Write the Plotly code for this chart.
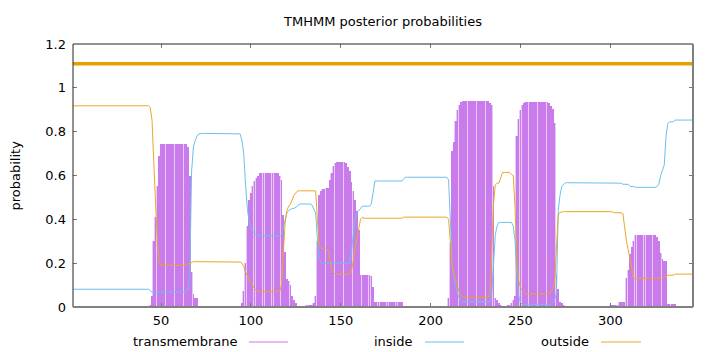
import plotly.graph_objects as go

# ---------------- data (posterior probabilities per residue) ----------------
transmembrane = (
    [0.0] * 43
    + [0.01, 0.05, 0.30, 0.41, 0.55, 0.69, 0.745]
    + [0.745] * 14
    + [0.73, 0.60, 0.16, 0.06, 0.04, 0.04]
    + [0.0] * 24
    + [0.02, 0.075, 0.20, 0.37, 0.49, 0.52, 0.55, 0.575, 0.59, 0.60]
    + [0.61] * 11
    + [0.60, 0.58, 0.42, 0.25, 0.13, 0.12, 0.10, 0.05, 0.03, 0.02]
    + [0.0] * 5
    + [0.005, 0.01, 0.01, 0.01, 0.02, 0.05, 0.30, 0.51, 0.53, 0.54, 0.54,
       0.545, 0.545, 0.58, 0.61, 0.645, 0.655]
    + [0.66] * 5
    + [0.655, 0.64, 0.62, 0.57, 0.53, 0.49, 0.44, 0.35]
    + [0.145] * 6
    + [0.14, 0.09]
    + [0.024] * 16
    + [0.0] * 25
    + [0.04, 0.29, 0.71, 0.755, 0.85, 0.90, 0.92, 0.935]
    + [0.94] * 15
    + [0.93, 0.92, 0.55, 0.04, 0.03, 0.02, 0.01]
    + [0.0] * 3
    + [0.01, 0.01, 0.02, 0.03, 0.05, 0.78, 0.86, 0.90, 0.92, 0.93]
    + [0.935] * 13
    + [0.93, 0.915, 0.905, 0.84, 0.15, 0.08, 0.025, 0.02, 0.01]
    + [0.0] * 25
    + [0.005] * 4
    + [0.01]
    + [0.024] * 4
    + [0.131, 0.17, 0.24, 0.275, 0.30]
    + [0.33] * 12
    + [0.32, 0.30, 0.245, 0.22, 0.21, 0.21]
    + [0.015] * 5
    + [0.0] * 10
)

inside = (
    [0.081] * 43
    + [0.075]
    + [0.067] * 19
    + [0.07, 0.08, 0.15, 0.62, 0.73, 0.76, 0.78, 0.79]
    + [0.792] * 22
    + [0.79, 0.76, 0.70, 0.56, 0.45, 0.39, 0.36, 0.345, 0.335, 0.33]
    + [0.325] * 14
    + [0.36, 0.40, 0.43, 0.44, 0.445, 0.45, 0.45, 0.455, 0.46]
    + [0.47] * 7
    + [0.465, 0.45, 0.43, 0.31, 0.22]
    + [0.20] * 17
    + [0.26, 0.33, 0.40, 0.43, 0.44, 0.45]
    + [0.46] * 5
    + [0.47, 0.52]
    + [0.575] * 16
    + [0.585]
    + [0.592] * 24
    + [0.58, 0.40, 0.20, 0.13, 0.09, 0.06, 0.04, 0.03]
    + [0.024] * 16
    + [0.06, 0.22, 0.33, 0.37]
    + [0.386] * 8
    + [0.37, 0.30, 0.13, 0.05, 0.02]
    + [0.012] * 17
    + [0.02, 0.035, 0.06, 0.44, 0.51, 0.55, 0.56]
    + [0.567] * 28
    + [0.565] * 4
    + [0.56] * 4
    + [0.55] * 3
    + [0.546] * 12
    + [0.55, 0.56, 0.60, 0.63, 0.648, 0.78, 0.838]
    + [0.845] * 3
    + [0.853] * 11
)

outside = (
    [0.918] * 43
    + [0.91, 0.85, 0.65, 0.45, 0.28, 0.21]
    + [0.19] * 15
    + [0.195, 0.20, 0.205]
    + [0.207] * 26
    + [0.205, 0.20, 0.185, 0.16, 0.14, 0.125, 0.11, 0.095, 0.085, 0.075]
    + [0.07] * 13
    + [0.10, 0.25, 0.38, 0.44, 0.46, 0.47, 0.49, 0.51, 0.52]
    + [0.53] * 11
    + [0.40, 0.28]
    + [0.268] * 4
    + [0.26, 0.22, 0.17, 0.155]
    + [0.15] * 9
    + [0.17, 0.21, 0.27, 0.32, 0.37, 0.40, 0.41]
    + [0.405] * 22
    + [0.41] * 25
    + [0.40, 0.30, 0.19, 0.15, 0.12, 0.09, 0.065, 0.05]
    + [0.044] * 15
    + [0.06, 0.28, 0.47, 0.557, 0.565, 0.565, 0.59]
    + [0.614] * 5
    + [0.605, 0.60, 0.45, 0.20, 0.12, 0.09, 0.075, 0.065]
    + [0.059] * 13
    + [0.06, 0.07, 0.085, 0.11, 0.25, 0.42, 0.432]
    + [0.435] * 29
    + [0.43] * 5
    + [0.425, 0.36, 0.30, 0.26, 0.22, 0.17]
    + [0.131] * 17
    + [0.135, 0.14]
    + [0.145] * 4
    + [0.15] * 11
)

residues = list(range(1, len(transmembrane) + 1))
topology_x = [1, 346]
topology_y = [1.11, 1.11]
x_ticks = [50, 100, 150, 200, 250, 300]
y_ticks = [0, 0.2, 0.4, 0.6, 0.8, 1, 1.2]
y_tick_text = ["0", "0.2", "0.4", "0.6", "0.8", "1", "1.2"]
series_names = ["transmembrane", "inside", "outside"]

# ---------------- styles ----------------
TM_DARK = "#c97bec"
TM_LIGHT = "#e6cbf6"
INSIDE_C = "#6cc0ec"
OUTSIDE_C = "#eaa72a"
TOPO_C = "#e69f00"
FONT = "DejaVu Sans"
FS = 13

fig = go.Figure()
fig.add_trace(go.Bar(x=residues, y=transmembrane, width=1.0,
                     marker=dict(color=TM_LIGHT, line=dict(width=0)),
                     showlegend=False, hoverinfo="skip"))
fig.add_trace(go.Bar(x=residues, y=transmembrane, width=0.3,
                     marker=dict(color=TM_DARK, line=dict(width=0)),
                     showlegend=False))
fig.add_trace(go.Scatter(x=residues, y=inside, mode="lines",
                         line=dict(color=INSIDE_C, width=1), showlegend=False))
fig.add_trace(go.Scatter(x=residues, y=outside, mode="lines",
                         line=dict(color=OUTSIDE_C, width=1), showlegend=False))
fig.add_trace(go.Scatter(x=topology_x, y=topology_y, mode="lines",
                         line=dict(color=TOPO_C, width=3.5), showlegend=False))

W, H = 720, 352
L, R, T, B = 73, 27, 44, 45
pw, ph = W - L - R, H - T - B


def px_x(p):
    return (p - L) / pw


def px_y(p):
    return (H - B - p) / ph


axis_common = dict(showgrid=False, zeroline=False, showline=False,
                   ticks="inside", ticklen=4, tickwidth=1, tickcolor="#777",
                   mirror="ticks",
                   tickfont=dict(family=FONT, size=FS, color="#000"))

fig.update_layout(
    width=W, height=H,
    margin=dict(l=L, r=R, t=T, b=B, pad=0),
    paper_bgcolor="white", plot_bgcolor="white",
    barmode="overlay", bargap=0,
    font=dict(family=FONT, size=FS, color="#000"),
    title=dict(text="TMHMM posterior probabilities", x=px_x(383), xref="paper",
               xanchor="center", y=1 - 21 / H, yref="container", yanchor="middle",
               font=dict(family=FONT, size=FS, color="#000")),
    xaxis=dict(range=[1, 346], tickvals=x_ticks, ticklabelstandoff=4, **axis_common),
    yaxis=dict(range=[0, 1.2], tickvals=y_ticks, ticktext=y_tick_text,
               ticklabelstandoff=6, **axis_common),
)

# frame: left/top thin black, bottom/right thicker grey (as in reference)
fig.add_shape(type="line", xref="paper", yref="paper", x0=0, x1=0, y0=0, y1=1,
              line=dict(color="#222", width=1), layer="above")
fig.add_shape(type="line", xref="paper", yref="paper", x0=0, x1=1, y0=1, y1=1,
              line=dict(color="#222", width=1), layer="above")
fig.add_shape(type="line", xref="paper", yref="paper", x0=0, x1=1, y0=0, y1=0,
              line=dict(color="#808080", width=2), layer="above")
fig.add_shape(type="line", xref="paper", yref="paper", x0=1, x1=1, y0=0, y1=1,
              line=dict(color="#808080", width=2), layer="above")

# y axis title
fig.add_annotation(text="probability", xref="paper", yref="paper",
                   x=px_x(15), y=0.5, textangle=-90, showarrow=False,
                   xanchor="center", yanchor="middle",
                   font=dict(family=FONT, size=FS, color="#000"))

# gnuplot-style key: text followed by line sample
legend_text_right = [240, 415, 591]
legend_sample = [(249, 288), (425, 464), (601, 641)]
legend_colors = [TM_DARK, INSIDE_C, OUTSIDE_C]
ky = 341
for name, xr, (s0, s1), c in zip(series_names, legend_text_right, legend_sample, legend_colors):
    fig.add_annotation(text=name, xref="paper", yref="paper", x=px_x(xr), y=px_y(ky),
                       xanchor="right", yanchor="middle", showarrow=False,
                       font=dict(family=FONT, size=FS, color="#000"))
    fig.add_shape(type="line", xref="paper", yref="paper", x0=px_x(s0), x1=px_x(s1),
                  y0=px_y(ky + 1), y1=px_y(ky + 1), line=dict(color=c, width=1))

fig.write_html("out.html")
